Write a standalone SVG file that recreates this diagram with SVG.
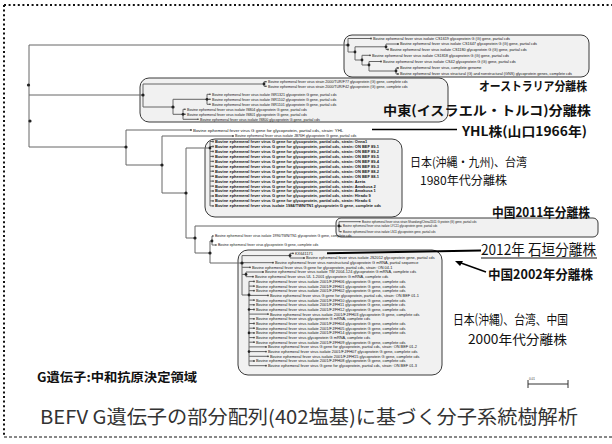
<svg xmlns="http://www.w3.org/2000/svg" width="612" height="444" viewBox="0 0 612 444">
<style>
.br{stroke:#666;stroke-width:1;fill:none}
.nd{fill:#222}
.mk{fill:#444}
.lf{font-family:"Liberation Sans",Arial,sans-serif;fill:#151515}
.au{font-size:3.8px}.me{font-size:3.6px}.jp{font-size:4px;font-weight:700}.cn{font-size:2.9px}.bt{font-size:3.9px}.md{font-size:3.5px}.yh{font-size:4.4px}
.box{fill:#f1f1f1;stroke:#3a3a3a;stroke-width:1}
.lb{font-family:"Noto Sans CJK JP","Noto Sans",sans-serif;fill:#111}
.b{font-weight:700}
.frm{stroke:#111;fill:none}
</style>
<rect width="612" height="444" fill="#fff"/>
<g id="frame">
<line class="frm" x1="4" y1="5" x2="612" y2="5" stroke-width="2" stroke-dasharray="2 2.6"/>
<line class="frm" x1="4" y1="5" x2="4" y2="437" stroke-width="2" stroke-dasharray="2 2.6"/>
<line class="frm" x1="4" y1="437" x2="612" y2="437" stroke-width="1" stroke-dasharray="3 2"/>
</g>
<g id="boxes">
<rect id="box-au" class="box" x="344" y="35" width="245" height="42" rx="8"/>
<rect id="box-me" class="box" x="140" y="78" width="308" height="44" rx="9"/>
<rect id="box-jp80" class="box" x="205" y="139" width="197" height="78" rx="10"/>
<rect id="box-cn11" class="box" x="336" y="218" width="262" height="19" rx="5"/>
<rect id="box-jp00" class="box" x="238" y="250" width="204" height="125" rx="10"/>
</g>
<g id="connectors">
<path class="br" d="M29,45 V147 M29,45 H348 M348,38.5 V52 M348,38.5 H371 M348,52 H355 M355,46.8 V60 M355,46.8 H386 M386,44 V49.5 M386,44 H398 M386,49.5 H388 M355,60 H362 M362,55.3 V65 M362,55.3 H370 M362,65 H369 M369,61.5 V71 M369,61.5 H381 M369,71 H396 M396,68 V74 M396,68 H398 M396,74 H398"/>
<path class="br" d="M29,95 H143 M143,84 V107 M143,84 H264 M264,81.7 V86.3 M264,81.7 H266 M264,86.3 H266 M143,107 H173 M173,99.3 V114.3 M173,99.3 H207 M207,94.3 V104.3 M207,94.3 H210 M207,99.3 H210 M207,104.3 H210 M173,114.3 H183 M183,109.3 V119.3 M183,109.3 H185 M183,114.3 H185 M183,119.3 H198"/>
<path class="br" d="M29,147 H126 M126,130 V165 M126,130 H191 M126,165 H162 M162,136 V193 M162,136 H233 M162,193 H186 M186,148 V238 M186,148 H210 M210,141.5 V205.9 M210,141.5 H212 M210,146.5 H212 M210,151.4 H212 M210,156.4 H212 M210,161.3 H212 M210,166.3 H212 M210,171.2 H212 M210,176.2 H212 M210,181.1 H212 M210,186.1 H212 M210,191 H212 M210,196 H212 M210,200.9 H212 M210,205.9 H212"/>
<path class="br" d="M186,238 H195 M195,226 V253 M195,226 H339 M339,221.7 V231.7 M339,221.7 H360 M339,226.3 H341 M339,231.7 H341 M195,253 H210 M210,241 V263 M210,241 H212 M212,236 V245 M212,236 H213 M212,245 H216 M210,263 H242"/>
<path class="br" d="M242,255.6 V295 M242,255.6 H290 M290,253.3 V258 M290,253.3 H293 M290,258 H304 M242,262.7 H273 M242,267.3 H250 M242,274.4 H246 M246,272 V276.7 M246,272 H263 M246,276.7 H253 M242,295 H249 M249,281.4 V365.7 M249,281.4 H254 M249,286.1 H254 M249,290.7 H254 M249,295.4 H268 M249,300.1 H254 M249,304.8 H254 M249,309.5 H254 M249,314.1 H268 M249,318.8 H254 M249,323.5 H254 M249,328.2 H254 M249,332.9 H254 M249,337.6 H254 M249,342.2 H254 M249,346.9 H266 M249,351.6 H266 M249,356.3 H268 M249,361 H254 M249,365.7 H266"/>
<path d="M327,253.3 L481,250.5" stroke="#000" stroke-width="2" fill="none"/>
<path d="M372,129.5 H457" stroke="#000" stroke-width="1.6" fill="none"/>
<path d="M486,272 L461,263" stroke="#000" stroke-width="1.4" fill="none"/>
<path d="M455,261 L463,261 L460,266 Z" fill="#000"/>
<g class="nd">
<circle cx="28.5" cy="85" r="1.6"/><circle cx="30" cy="121" r="1.6"/><circle cx="348" cy="45" r="1.6"/><circle cx="355" cy="52" r="1.4"/><circle cx="386" cy="46.8" r="1.4"/><circle cx="362" cy="60" r="1.4"/><circle cx="369" cy="65" r="1.4"/><circle cx="396" cy="71" r="1.4"/>
<circle cx="143" cy="95" r="1.6"/><circle cx="264" cy="84" r="1.4"/><circle cx="173" cy="107" r="1.6"/><circle cx="207" cy="99.3" r="1.4"/><circle cx="183" cy="114.3" r="1.4"/>
<circle cx="126" cy="147" r="1.6"/><circle cx="162" cy="165" r="1.6"/><circle cx="186" cy="193" r="1.6"/><circle cx="210" cy="148" r="1.4"/><circle cx="195" cy="238" r="1.6"/><circle cx="339" cy="226" r="1.4"/><circle cx="210" cy="253" r="1.6"/><circle cx="212" cy="241" r="1.4"/>
<circle cx="242" cy="263" r="1.6"/><circle cx="290" cy="255.6" r="1.4"/><circle cx="246" cy="274.4" r="1.4"/><circle cx="249" cy="295" r="1.4"/><circle cx="249" cy="309.5" r="1.3"/><circle cx="249" cy="332.9" r="1.3"/><circle cx="249" cy="351.6" r="1.3"/>
</g>
</g>
<g id="leaves" class="lf">
<g id="au1"><circle class="mk" cx="371" cy="38.5" r="0.9"/><text class="au" x="373" y="39.9">Bovine ephemeral fever virus isolate CS1619 glycoprotein G (G) gene, partial cds</text></g>
<g id="au2"><circle class="mk" cx="398" cy="44" r="0.9"/><text class="au" x="400" y="45.4">Bovine ephemeral fever virus isolate CS1647 glycoprotein G (G) gene, partial cds</text></g>
<g id="au3"><circle class="mk" cx="388" cy="49.5" r="0.9"/><text class="au" x="390" y="50.9">Bovine ephemeral fever virus isolate CS1180 glycoprotein G (G) gene, partial cds</text></g>
<g id="au4"><circle class="mk" cx="370" cy="55.3" r="0.9"/><text class="au" x="372" y="56.7">Bovine ephemeral fever virus isolate CS1818 glycoprotein G (G) gene, partial cds</text></g>
<g id="au5"><circle class="mk" cx="381" cy="61.5" r="0.9"/><text class="au" x="383" y="62.9">Bovine ephemeral fever virus isolate CS42 glycoprotein G (G) gene, partial cds</text></g>
<g id="au6"><circle class="mk" cx="398" cy="68" r="0.9"/><text class="au" x="400" y="69.4">Bovine ephemeral fever virus, complete genome</text></g>
<g id="au7"><circle class="mk" cx="398" cy="74" r="0.9"/><text class="au" x="400" y="75.4">Bovine ephemeral fever virus structural (G) and nonstructural (GNS) glycoprotein genes, complete cds</text></g>
<g id="me1"><circle class="mk" cx="266" cy="81.7" r="0.8"/><text class="me" x="268" y="83">Bovine ephemeral fever virus strain 2000/TUR/F77 glycoprotein (G) gene, complete cds</text></g>
<g id="me2"><circle class="mk" cx="266" cy="86.3" r="0.8"/><text class="me" x="268" y="87.6">Bovine ephemeral fever virus strain 2000/TUR/F42 glycoprotein (G) gene, complete cds</text></g>
<g id="me3"><circle class="mk" cx="210" cy="94.3" r="0.8"/><text class="me" x="212" y="95.6">Bovine ephemeral fever virus isolate ISR1321 glycoprotein G gene, partial cds</text></g>
<g id="me4"><circle class="mk" cx="210" cy="99.3" r="0.8"/><text class="me" x="212" y="100.6">Bovine ephemeral fever virus isolate ISR1102 glycoprotein G gene, partial cds</text></g>
<g id="me5"><circle class="mk" cx="210" cy="104.3" r="0.8"/><text class="me" x="212" y="105.6">Bovine ephemeral fever virus isolate ISR1101 glycoprotein G gene, partial cds</text></g>
<g id="me6"><circle class="mk" cx="185" cy="109.3" r="0.8"/><text class="me" x="187" y="110.6">Bovine ephemeral fever virus isolate IS804 glycoprotein G gene, partial cds</text></g>
<g id="me7"><circle class="mk" cx="185" cy="114.3" r="0.8"/><text class="me" x="187" y="115.6">Bovine ephemeral fever virus isolate IS801 glycoprotein G gene, partial cds</text></g>
<g id="me8"><circle class="mk" cx="198" cy="119.3" r="0.8"/><text class="me" x="200" y="120.6">Bovine ephemeral fever virus isolate IS800 glycoprotein G gene, partial cds</text></g>
<g id="yhl"><circle class="mk" cx="191" cy="130" r="0.9"/><text class="yh" x="193" y="131.5">Bovine ephemeral fever virus G gene for glycoprotein, partial cds, strain: YHL</text></g>
<g id="jb76h"><circle class="mk" cx="233" cy="136" r="0.9"/><text class="me" x="235" y="137.3">Bovine ephemeral fever virus isolate JB76H glycoprotein G gene, partial cds</text></g>
<g id="jp1"><circle class="mk" cx="213" cy="141.5" r="0.9"/><text class="jp" x="215" y="142.9">Bovine ephemeral fever virus G gene for glycoprotein, partial cds, strain: Onna1</text></g>
<g id="jp2"><circle class="mk" cx="213" cy="146.5" r="0.9"/><text class="jp" x="215" y="147.9">Bovine ephemeral fever virus G gene for glycoprotein, partial cds, strain: ON BEF 89-1</text></g>
<g id="jp3"><circle class="mk" cx="213" cy="151.4" r="0.9"/><text class="jp" x="215" y="152.8">Bovine ephemeral fever virus G gene for glycoprotein, partial cds, strain: ON BEF 89-2</text></g>
<g id="jp4"><circle class="mk" cx="213" cy="156.4" r="0.9"/><text class="jp" x="215" y="157.8">Bovine ephemeral fever virus G gene for glycoprotein, partial cds, strain: ON BEF 89-5</text></g>
<g id="jp5"><circle class="mk" cx="213" cy="161.3" r="0.9"/><text class="jp" x="215" y="162.7">Bovine ephemeral fever virus G gene for glycoprotein, partial cds, strain: ON BEF 89-4</text></g>
<g id="jp6"><circle class="mk" cx="213" cy="166.3" r="0.9"/><text class="jp" x="215" y="167.7">Bovine ephemeral fever virus G gene for glycoprotein, partial cds, strain: ON BEF 89-3</text></g>
<g id="jp7"><circle class="mk" cx="213" cy="171.2" r="0.9"/><text class="jp" x="215" y="172.6">Bovine ephemeral fever virus G gene for glycoprotein, partial cds, strain: ON BEF 88-2</text></g>
<g id="jp8"><circle class="mk" cx="213" cy="176.2" r="0.9"/><text class="jp" x="215" y="177.6">Bovine ephemeral fever virus G gene for glycoprotein, partial cds, strain: ON BEF 88-1</text></g>
<g id="jp9"><circle class="mk" cx="213" cy="181.1" r="0.9"/><text class="jp" x="215" y="182.5">Bovine ephemeral fever virus G gene for glycoprotein, partial cds, strain: Azeta</text></g>
<g id="jp10"><circle class="mk" cx="213" cy="186.1" r="0.9"/><text class="jp" x="215" y="187.5">Bovine ephemeral fever virus G gene for glycoprotein, partial cds, strain: Amakusa 2</text></g>
<g id="jp11"><circle class="mk" cx="213" cy="191" r="0.9"/><text class="jp" x="215" y="192.4">Bovine ephemeral fever virus G gene for glycoprotein, partial cds, strain: Amakusa 1</text></g>
<g id="jp12"><circle class="mk" cx="213" cy="196" r="0.9"/><text class="jp" x="215" y="197.4">Bovine ephemeral fever virus G gene for glycoprotein, partial cds, strain: Hirado 9</text></g>
<g id="jp13"><circle class="mk" cx="213" cy="200.9" r="0.9"/><text class="jp" x="215" y="202.3">Bovine ephemeral fever virus G gene for glycoprotein, partial cds, strain: Hirado 6</text></g>
<g id="jp14"><circle class="mk" cx="213" cy="205.9" r="0.9"/><text class="jp" x="215" y="207.3">Bovine ephemeral fever virus isolate 1984/TWN/TN1 glycoprotein G gene, complete cds</text></g>
<g id="cn1"><circle class="mk" cx="360" cy="221.7" r="0.7"/><text class="cn" x="362" y="222.7">Bovine ephemeral fever virus strain Shandong/China/2011 G protein (G) gene, partial cds</text></g>
<g id="cn2"><circle class="mk" cx="341" cy="226.3" r="0.7"/><text class="cn" x="343" y="227.3">Bovine ephemeral fever virus isolate LYC11 glycoprotein gene, partial cds</text></g>
<g id="cn3"><circle class="mk" cx="341" cy="231.7" r="0.7"/><text class="cn" x="343" y="232.7">Bovine ephemeral fever virus isolate LS11 glycoprotein gene, partial cds</text></g>
<g id="tw1"><circle class="mk" cx="213" cy="236" r="0.8"/><text class="md" x="215" y="237.3">Bovine ephemeral fever virus isolate 1996/TWN/TN1 glycoprotein G gene, complete cds</text></g>
<g id="tw2"><circle class="mk" cx="216" cy="245" r="0.8"/><text class="md" x="218" y="246.3">Bovine ephemeral fever virus glycoprotein G gene, complete cds</text></g>
<g id="b0"><circle class="mk" cx="293" cy="253.3" r="0.9"/><text class="bt" x="295" y="254.7">KX641171</text></g>
<g id="b1"><circle class="mk" cx="304" cy="258" r="0.9"/><text class="bt" x="306" y="259.4">Bovine ephemeral fever virus isolate JS2012 glycoprotein gene, partial cds</text></g>
<g id="b2"><circle class="mk" cx="273" cy="262.7" r="0.9"/><text class="bt" x="275" y="264.1">Bovine ephemeral fever virus nonstructural glycoprotein G mRNA, partial sequence</text></g>
<g id="b3"><circle class="mk" cx="250" cy="267.3" r="0.9"/><text class="bt" x="252" y="268.7">Bovine ephemeral fever virus G gene for glycoprotein, partial cds, strain: ON 04-1</text></g>
<g id="b4"><circle class="mk" cx="263" cy="272" r="0.9"/><text class="bt" x="265" y="273.4">Bovine ephemeral fever virus isolate TW 2004-124 glycoprotein G mRNA, complete cds</text></g>
<g id="b5"><circle class="mk" cx="253" cy="276.7" r="0.9"/><text class="bt" x="255" y="278.1">Bovine ephemeral fever virus UL 1-2001 glycoprotein G mRNA, complete cds</text></g>
<g id="b6"><circle class="mk" cx="254" cy="281.4" r="0.9"/><text class="bt" x="256" y="282.8">Bovine ephemeral fever virus isolate 2001/FJ/FH06 glycoprotein G gene, complete cds</text></g>
<g id="b7"><circle class="mk" cx="254" cy="286.1" r="0.9"/><text class="bt" x="256" y="287.5">Bovine ephemeral fever virus isolate 2001/FJ/FH01 glycoprotein G gene, complete cds</text></g>
<g id="b8"><circle class="mk" cx="254" cy="290.7" r="0.9"/><text class="bt" x="256" y="292.1">Bovine ephemeral fever virus isolate 2001/FJ/FH02 glycoprotein G gene, complete cds</text></g>
<g id="b9"><circle class="mk" cx="268" cy="295.4" r="0.9"/><text class="bt" x="270" y="296.8">Bovine ephemeral fever virus G gene for glycoprotein, partial cds, strain: ON BEF 01-1</text></g>
<g id="b10"><circle class="mk" cx="254" cy="300.1" r="0.9"/><text class="bt" x="256" y="301.5">Bovine ephemeral fever virus isolate 2001/FJ/FH10 glycoprotein G gene, complete cds</text></g>
<g id="b11"><circle class="mk" cx="254" cy="304.8" r="0.9"/><text class="bt" x="256" y="306.2">Bovine ephemeral fever virus isolate 2001/FJ/FH11 glycoprotein G gene, complete cds</text></g>
<g id="b12"><circle class="mk" cx="254" cy="309.5" r="0.9"/><text class="bt" x="256" y="310.9">Bovine ephemeral fever virus isolate 2001/FJ/FH12 glycoprotein G gene, complete cds</text></g>
<g id="b13"><circle class="mk" cx="268" cy="314.1" r="0.9"/><text class="bt" x="270" y="315.5">Bovine ephemeral fever virus isolate 2001/FJ/FH03 glycoprotein G gene, complete cds</text></g>
<g id="b14"><circle class="mk" cx="254" cy="318.8" r="0.9"/><text class="bt" x="256" y="320.2">Bovine ephemeral fever virus glycoprotein G mRNA, complete cds</text></g>
<g id="b15"><circle class="mk" cx="254" cy="323.5" r="0.9"/><text class="bt" x="256" y="324.9">Bovine ephemeral fever virus isolate 2001/FJ/FH04 glycoprotein G gene, complete cds</text></g>
<g id="b16"><circle class="mk" cx="254" cy="328.2" r="0.9"/><text class="bt" x="256" y="329.6">Bovine ephemeral fever virus isolate 2001/FJ/FH05 glycoprotein G gene, complete cds</text></g>
<g id="b17"><circle class="mk" cx="254" cy="332.9" r="0.9"/><text class="bt" x="256" y="334.3">Bovine ephemeral fever virus isolate 2001/FJ/FH14 glycoprotein G gene, complete cds</text></g>
<g id="b18"><circle class="mk" cx="254" cy="337.6" r="0.9"/><text class="bt" x="256" y="339">Bovine ephemeral fever virus glycoprotein G mRNA, complete cds</text></g>
<g id="b19"><circle class="mk" cx="254" cy="342.2" r="0.9"/><text class="bt" x="256" y="343.6">Bovine ephemeral fever virus isolate 2001/FJ/FH09 glycoprotein G gene, complete cds</text></g>
<g id="b20"><circle class="mk" cx="266" cy="346.9" r="0.9"/><text class="bt" x="268" y="348.3">Bovine ephemeral fever virus G gene for glycoprotein, partial cds, strain: ON BEF 01-2</text></g>
<g id="b21"><circle class="mk" cx="266" cy="351.6" r="0.9"/><text class="bt" x="268" y="353">Bovine ephemeral fever virus isolate 2001/FJ/FH07 glycoprotein G gene, complete cds</text></g>
<g id="b22"><circle class="mk" cx="268" cy="356.3" r="0.9"/><text class="bt" x="270" y="357.7">Bovine ephemeral fever virus isolate 2001/FJ/FH15 glycoprotein G gene, complete cds</text></g>
<g id="b23"><circle class="mk" cx="254" cy="361" r="0.9"/><text class="bt" x="256" y="362.4">Bovine ephemeral fever virus isolate 2001/FJ/FH08 glycoprotein G gene, complete cds</text></g>
<g id="b24"><circle class="mk" cx="266" cy="365.7" r="0.9"/><text class="bt" x="268" y="367.1">Bovine ephemeral fever virus G gene for glycoprotein, partial cds, strain: ON BEF 01-3</text></g>
</g>
<g id="labels" class="lb">
<g id="lab-au"><text class="b" x="479" y="91" font-size="12" textLength="108" lengthAdjust="spacingAndGlyphs">オーストラリア分離株</text></g>
<g id="lab-me"><text class="b" x="383" y="115" font-size="13" textLength="208" lengthAdjust="spacingAndGlyphs">中東(イスラエル・トルコ)分離株</text></g>
<g id="lab-yhl"><text class="b" x="462" y="135.5" font-size="13" textLength="125" lengthAdjust="spacingAndGlyphs">YHL株(山口1966年)</text></g>
<g id="lab-jp80"><text x="410" y="166.5" font-size="12" textLength="117" lengthAdjust="spacingAndGlyphs">日本(沖縄・九州)、台湾</text><text x="420" y="184.5" font-size="12" textLength="87" lengthAdjust="spacingAndGlyphs">1980年代分離株</text></g>
<g id="lab-cn11"><text class="b" x="492" y="216.5" font-size="13" textLength="98" lengthAdjust="spacingAndGlyphs">中国2011年分離株</text></g>
<g id="lab-2012"><text x="481" y="255" font-size="14.5" textLength="115" lengthAdjust="spacingAndGlyphs">2012年 石垣分離株</text><line x1="481" y1="258" x2="597" y2="258" stroke="#111" stroke-width="1.2"/></g>
<g id="lab-cn02"><text class="b" x="488" y="278.5" font-size="13" textLength="105" lengthAdjust="spacingAndGlyphs">中国2002年分離株</text></g>
<g id="lab-jp00"><text x="453" y="324" font-size="13" textLength="115" lengthAdjust="spacingAndGlyphs">日本(沖縄)、台湾、中国</text><text x="468" y="344" font-size="13" textLength="99" lengthAdjust="spacingAndGlyphs">2000年代分離株</text></g>
<g id="lab-g"><text class="b" x="37" y="381.5" font-size="12.5" textLength="160" lengthAdjust="spacingAndGlyphs">G遺伝子:中和抗原決定領域</text></g>
<g id="title"><text x="40" y="424" font-size="19" fill="#333" textLength="538" lengthAdjust="spacingAndGlyphs">BEFV  G遺伝子の部分配列(402塩基)に基づく分子系統樹解析</text></g>
</g>
<g id="scale">
<path d="M528,380 V388 M528,384 H568 M568,380 V388" stroke="#333" stroke-width="1" fill="none"/>
<text x="529" y="379.5" font-family="Liberation Sans, sans-serif" font-size="3" fill="#333">0.01</text>
</g>
</svg>
